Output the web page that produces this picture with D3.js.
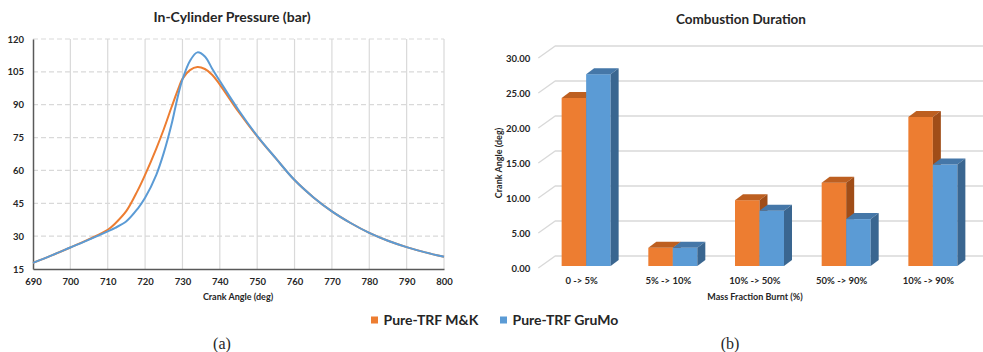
<!DOCTYPE html>
<html>
<head>
<meta charset="utf-8">
<script src="https://cdn.jsdelivr.net/npm/d3@7"></script>
<style>
  body { margin: 0; background: #fff; }
  svg { display: block; }
  text { font-family: Lato, "Open Sans", sans-serif; fill: #262626; }
</style>
</head>
<body>
<svg id="chart" width="983" height="352"></svg>
<script>
// ---- data ----
const seriesNames = ['Pure-TRF M&K', 'Pure-TRF GruMo'];
const seriesColors = ['#ED7D31', '#5B9BD5'];

// (a) in-cylinder pressure
const crankAngles =   [690, 695, 700, 705, 710, 712, 715, 718, 720, 723, 725, 727, 728, 729, 730, 732, 734, 736, 738, 740, 745, 750, 755, 760, 765, 770, 775, 780, 785, 790, 795, 800];
const pressureMK =    [17.8, 21.2, 24.8, 28.6, 32.9, 35.8, 41.5, 50.8, 58, 70, 78.8, 88.5, 93.2, 97.8, 101.8, 105.8, 107.2, 106.3, 103.6, 99.2, 86.8, 75.6, 65.5, 55.6, 47.8, 41.3, 36, 31.5, 27.9, 25, 22.6, 20.6];
const pressureGruMo = [17.8, 21.2, 24.8, 28.4, 32.2, 33.8, 36.8, 42.5, 47.5, 58, 68, 80.5, 88, 95.5, 101.5, 110, 113.9, 112, 106.3, 100.8, 87.6, 75.8, 65.5, 55.6, 47.8, 41.3, 36, 31.5, 27.9, 25, 22.6, 20.6];
const angleTicks = [690, 700, 710, 720, 730, 740, 750, 760, 770, 780, 790, 800];
const pressureTicks = [15, 30, 45, 60, 75, 90, 105, 120];

// (b) combustion duration
const stages = ['0 -> 5%', '5% -> 10%', '10% -> 50%', '50% -> 90%', '10% -> 90%'];
const durationMK =    [24.0, 2.6, 9.4, 11.9, 21.3];
const durationGruMo = [27.4, 2.6, 7.9, 6.7, 14.5];
const durationTicks = [0, 5, 10, 15, 20, 25, 30];

const svg = d3.select('#chart');

// ---- (a) line chart ----
const xA = d3.scaleLinear().domain([690, 800]).range([33, 444]);
const yA = d3.scaleLinear().domain([15, 120]).range([269, 39]);

const gA = svg.append('g');

gA.selectAll('.vgrid')
  .data(angleTicks.slice(1))
  .enter().append('line')
  .attr('x1', d => xA(d)).attr('x2', d => xA(d))
  .attr('y1', yA(120)).attr('y2', yA(15))
  .attr('stroke', '#d9d9d9').attr('stroke-width', 1.2);

gA.selectAll('.hgrid')
  .data(pressureTicks.slice(1))
  .enter().append('line')
  .attr('x1', xA(690)).attr('x2', xA(800))
  .attr('y1', d => yA(d)).attr('y2', d => yA(d))
  .attr('stroke', '#d9d9d9').attr('stroke-width', 1.2)
  .attr('stroke-dasharray', '5,3');

const axXA = gA.append('g')
  .attr('transform', 'translate(0,' + yA(15) + ')')
  .call(d3.axisBottom(xA).tickValues(angleTicks).tickSize(0).tickPadding(9));
axXA.select('.domain').attr('stroke', '#595959').attr('stroke-width', 1.5);

const axYA = gA.append('g')
  .attr('transform', 'translate(' + xA(690) + ',0)')
  .call(d3.axisLeft(yA).tickValues(pressureTicks).tickSize(0).tickPadding(9));
axYA.select('.domain').attr('stroke', '#595959').attr('stroke-width', 1.5);

gA.selectAll('.tick text')
  .style('font-size', '9.5px').style('font-weight', 'bold').attr('fill', '#262626');

const line = (vals) => d3.line()
  .x((d, i) => xA(crankAngles[i]))
  .y(d => yA(d))
  .curve(d3.curveCatmullRom.alpha(0.5))(vals);

[pressureMK, pressureGruMo].forEach((vals, i) => {
  gA.append('path')
    .attr('d', line(vals))
    .attr('fill', 'none')
    .attr('stroke', seriesColors[i])
    .attr('stroke-width', 2);
});

gA.append('text')
  .attr('x', 232).attr('y', 22)
  .attr('text-anchor', 'middle')
  .style('font-size', '14px').style('font-weight', 'bold')
  .text('In-Cylinder Pressure (bar)');

gA.append('text')
  .attr('x', 238).attr('y', 300)
  .attr('text-anchor', 'middle')
  .style('font-size', '9px').style('font-weight', 'bold')
  .text('Crank Angle (deg)');

// ---- (b) 3D bar chart ----
const xB = d3.scaleBand().domain(stages).range([538.3, 971.7]);
const yB = d3.scaleLinear().domain([0, 30]).range([268, 58]);
const depth = { dx: 17, dy: -12 };
const barDepth = { dx: 8, dy: -6 };
const barW = 24.5;

const gB = svg.append('g');

// back wall gridlines with side-wall diagonals
gB.selectAll('.bgrid')
  .data(durationTicks)
  .enter().append('path')
  .attr('d', d => {
    const x0 = xB.range()[0], y0 = yB(d);
    return 'M' + x0 + ',' + y0 + 'L' + (x0 + depth.dx) + ',' + (y0 + depth.dy) + 'H983';
  })
  .attr('fill', 'none')
  .attr('stroke', '#d9d9d9').attr('stroke-width', 1.3);

const axYB = gB.append('g')
  .attr('transform', 'translate(' + xB.range()[0] + ',0)')
  .call(d3.axisLeft(yB).tickValues(durationTicks).tickFormat(d3.format('.2f')).tickSize(0).tickPadding(8));
axYB.select('.domain').remove();

const axXB = gB.append('g')
  .attr('transform', 'translate(0,' + yB(0) + ')')
  .call(d3.axisBottom(xB).tickSize(0).tickPadding(9));
axXB.select('.domain').remove();

gB.selectAll('.tick text')
  .style('font-size', '9.5px').style('font-weight', 'bold').attr('fill', '#262626');

const shades = [
  { front: '#ED7D31', top: '#BD5F20', side: '#A04D18' },
  { front: '#5B9BD5', top: '#4577A8', side: '#3A6690' }
];

function bar3d(g, x, top, bottom, s) {
  const { dx, dy } = barDepth;
  g.append('rect')
    .attr('x', x).attr('y', top)
    .attr('width', barW).attr('height', bottom - top)
    .attr('fill', s.front);
  g.append('path')
    .attr('d', 'M' + x + ',' + top + 'l' + dx + ',' + dy + 'h' + barW + 'l' + (-dx) + ',' + (-dy) + 'Z')
    .attr('fill', s.top);
  g.append('path')
    .attr('d', 'M' + (x + barW) + ',' + top + 'l' + dx + ',' + dy + 'V' + (bottom + dy) + 'l' + (-dx) + ',' + (-dy) + 'Z')
    .attr('fill', s.side);
}

const lift = 2; // bars sit slightly behind the front edge
stages.forEach((st, i) => {
  const c = xB(st) + xB.bandwidth() / 2;
  const gBar = gB.append('g');
  [durationMK[i], durationGruMo[i]].forEach((v, k) => {
    const x = c - 20 + k * barW;
    bar3d(gBar, x, yB(v) - lift, yB(0) - lift, shades[k]);
  });
});

gB.append('text')
  .attr('x', 741).attr('y', 23.5)
  .attr('text-anchor', 'middle')
  .style('font-size', '13.5px').style('font-weight', 'bold')
  .text('Combustion Duration');

gB.append('text')
  .attr('x', 755).attr('y', 300)
  .attr('text-anchor', 'middle')
  .style('font-size', '9px').style('font-weight', 'bold')
  .text('Mass Fraction Burnt (%)');

gB.append('text')
  .attr('transform', 'translate(502,163) rotate(-90)')
  .attr('text-anchor', 'middle')
  .style('font-size', '9px').style('font-weight', 'bold')
  .text('Crank Angle (deg)');

// ---- legend ----
const legend = svg.append('g');
const legendX = [371, 500];
seriesNames.forEach((name, i) => {
  legend.append('rect')
    .attr('x', legendX[i]).attr('y', 316.5)
    .attr('width', 7).attr('height', 7)
    .attr('fill', seriesColors[i]);
  legend.append('text')
    .attr('x', legendX[i] + 12.5).attr('y', 325)
    .style('font-size', '14px').style('font-weight', 'bold')
    .text(name);
});

// ---- panel labels ----
[['(a)', 222], ['(b)', 730]].forEach(([t, x]) => {
  svg.append('text')
    .attr('x', x).attr('y', 349)
    .attr('text-anchor', 'middle')
    .style('font-family', '"Liberation Serif", serif')
    .style('font-size', '16px')
    .text(t);
});
</script>
</body>
</html>
